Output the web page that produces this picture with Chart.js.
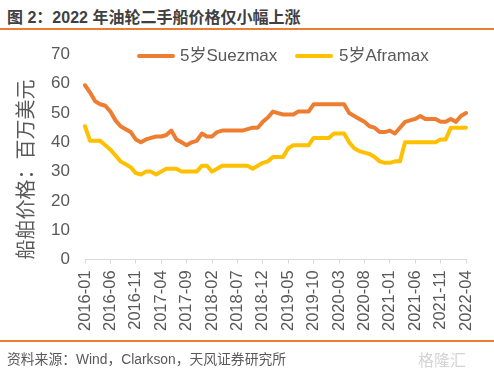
<!DOCTYPE html>
<html lang="zh">
<head>
    <meta charset="UTF-8">
    <title>2022 年油轮二手船价格仅小幅上涨</title>
    <script src="https://cdn.jsdelivr.net/npm/chart.js"></script>
    <style>
        html, body {
            margin: 0;
            padding: 0;
            background: #fff;
        }
        body {
            width: 494px;
            height: 368px;
            position: relative;
            overflow: hidden;
            font-family: 'Liberation Sans', 'Noto Sans CJK SC', sans-serif;
            color: #595959;
        }
        .title {
            position: absolute;
            left: 7px;
            top: 4px;
            font-size: 16px;
            font-weight: bold;
            color: #404040;
            white-space: nowrap;
        }
        .rule {
            position: absolute;
            left: 0;
            width: 494px;
            height: 1.5px;
            background: #ED7D31;
        }
        .chart-box {
            position: absolute;
            left: 0;
            top: 0;
            width: 494px;
            height: 368px;
        }
        .legend-line {
            position: absolute;
            width: 38px;
            height: 4px;
            border-radius: 2px;
        }
        .legend-text {
            position: absolute;
            font-size: 17px;
            line-height: 20px;
            color: #595959;
            white-space: nowrap;
        }
        .source {
            position: absolute;
            left: 7px;
            top: 348px;
            font-size: 13.8px;
            color: #595959;
            white-space: nowrap;
        }
        .mark {
            position: absolute;
            left: 418px;
            top: 347px;
            font-size: 16px;
            color: #d4d4d4;
        }
    </style>
</head>
<body>
    <div class="title">图 2：2022 年油轮二手船价格仅小幅上涨</div>
    <div class="rule" style="top:28px"></div>

    <div class="chart-box">
        <canvas id="priceChart"></canvas>
    </div>

    <!-- legend -->
    <div class="legend-line" style="left:137px; top:54px; background:#ED7D31"></div>
    <div class="legend-text" style="left:180px; top:46px">5岁Suezmax</div>
    <div class="legend-line" style="left:295px; top:54px; background:#FFC000"></div>
    <div class="legend-text" style="left:339px; top:46px">5岁Aframax</div>

    <div class="rule" style="top:340px"></div>
    <div class="source">资料来源：Wind，Clarkson，天风证券研究所</div>
    <div class="mark">格隆汇</div>

    <script>
        // monthly, 2016-01 .. 2022-04
        const startYear = 2016;
        const monthCount = 76;
        const months = [];
        for (let i = 0; i < monthCount; i++) {
            const y = startYear + Math.floor(i / 12);
            const m = (i % 12) + 1;
            months.push(y + '-' + (m < 10 ? '0' + m : m));
        }

        // labels shown on the axis (every 5 months)
        const tickLabels = ['2016-01', '2016-06', '2016-11', '2017-04', '2017-09', '2018-02', '2018-07', '2018-12',
            '2019-05', '2019-10', '2020-03', '2020-08', '2021-01', '2021-06', '2021-11', '2022-04'];

        const suezmax = [
            59.5, 57, 54, 53, 52.5, 50.5, 47.5, 45.5, 44.5, 43.5, 41, 40,
            41, 41.5, 42, 42, 42.5, 44, 41, 40, 39, 40, 40.5, 43,
            42, 42, 43.5, 44, 44, 44, 44, 44, 44.5, 45, 45, 47,
            48.5, 50.5, 50, 49.5, 49.5, 49.5, 50.5, 50.5, 50.5, 53, 53, 53,
            53, 53, 53, 53, 50, 49, 48, 47, 45.5, 45, 43.5, 43.5,
            44, 43, 45, 47, 47.5, 48, 49, 48, 48, 48, 47, 47,
            48, 47, 49, 50
        ];

        const aframax = [
            45.5, 40.5, 40.5, 40.5, 39, 37.5, 35.5, 33.5, 32.5, 31.5, 29.5, 29,
            30, 30, 29, 30, 31, 31, 31, 30, 30, 30, 30, 32,
            32, 30, 31, 32, 32, 32, 32, 32, 32, 31, 32, 33,
            33.5, 35, 35, 35, 38, 39, 39, 39, 39, 41.5, 41.5, 41.5,
            41.5, 43, 43, 43, 40, 38, 37, 36.5, 36, 35, 33.5, 33,
            33, 33.5, 33.5, 40, 40, 40, 40, 40, 40, 40, 41, 41,
            45, 45, 45, 45
        ];

        const yTicks = [0, 10, 20, 30, 40, 50, 60, 70];

        function createChart() {
            new Chart(document.getElementById('priceChart'), {
                type: 'line',
                data: {
                    labels: months,
                    datasets: [
                        {
                            label: '5岁Suezmax',
                            data: suezmax,
                            borderColor: '#ED7D31',
                            backgroundColor: '#ED7D31',
                            borderWidth: 4,
                            pointRadius: 0,
                            tension: 0,
                            borderCapStyle: 'round',
                            borderJoinStyle: 'round'
                        },
                        {
                            label: '5岁Aframax',
                            data: aframax,
                            borderColor: '#FFC000',
                            backgroundColor: '#FFC000',
                            borderWidth: 4,
                            pointRadius: 0,
                            tension: 0,
                            borderCapStyle: 'round',
                            borderJoinStyle: 'round'
                        }
                    ]
                },
                options: {
                    responsive: true,
                    maintainAspectRatio: false,
                    animation: false,
                    layout: {
                        padding: { top: 54.5, left: 13, right: 28, bottom: 30 }
                    },
                    plugins: {
                        legend: { display: false },
                        tooltip: { enabled: false }
                    },
                    scales: {
                        x: {
                            ticks: {
                                autoSkip: false,
                                minRotation: 90,
                                maxRotation: 90,
                                padding: 7,
                                color: '#595959',
                                font: { size: 16.5, family: "'Liberation Sans', sans-serif" },
                                callback: function (v, i) {
                                    const lab = months[i];
                                    return tickLabels.includes(lab) ? lab : '';
                                }
                            },
                            grid: {
                                drawOnChartArea: false,
                                drawTicks: true,
                                tickLength: 4,
                                color: ctx => tickLabels.includes(months[ctx.index]) ? '#d9d9d9' : 'rgba(0,0,0,0)'
                            },
                            border: { color: '#d9d9d9', width: 1 }
                        },
                        y: {
                            min: yTicks[0],
                            max: yTicks[yTicks.length - 1],
                            ticks: {
                                stepSize: 10,
                                padding: 15,
                                color: '#595959',
                                font: { size: 17, family: "'Liberation Sans', sans-serif" }
                            },
                            grid: { display: false, drawTicks: false },
                            border: { display: false },
                            title: {
                                display: true,
                                align: 'start',
                                text: '船舶价格：百万美元',
                                color: '#595959',
                                font: { size: 20, family: "'Noto Sans CJK SC', sans-serif" },
                                padding: { top: 0, bottom: 0 }
                            },
                            afterFit: function (scale) {
                                scale.width = 72;
                            }
                        }
                    }
                }
            });
        }

        document.addEventListener('DOMContentLoaded', createChart);
    </script>
</body>
</html>
